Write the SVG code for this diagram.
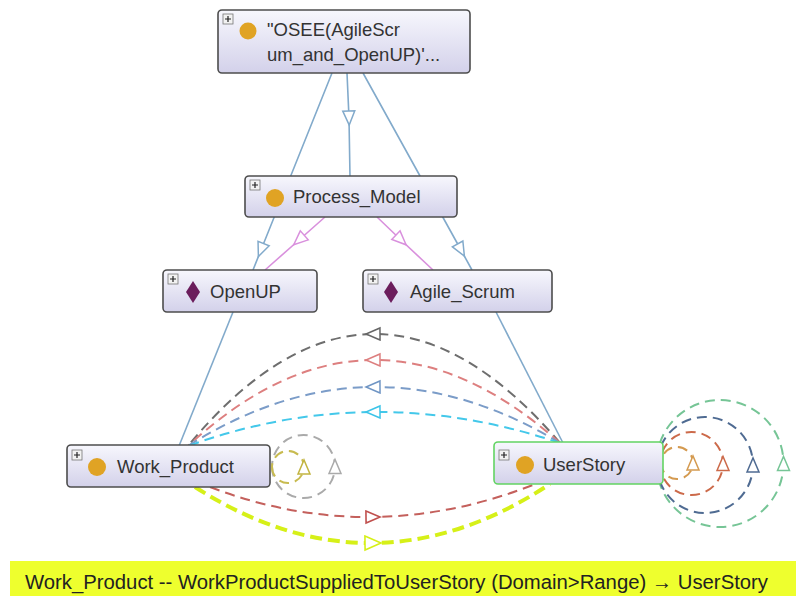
<svg xmlns="http://www.w3.org/2000/svg" width="796" height="596" viewBox="0 0 796 596">
<style>
.node{fill:url(#ng);stroke:#4d4d4d;stroke-width:1.6}
.lbl{font-family:"Liberation Sans",Arial,sans-serif;font-size:18.5px;fill:#333}
.pbox{fill:#f2f2f2;stroke:#777;stroke-width:0.8}
.pl{stroke:#222;stroke-width:1.2}
.dot{fill:#e0a324}
.dia{fill:#6b1d5c}
.h{fill:none;stroke:#82aacb;stroke-width:1.6}
.pk{fill:none;stroke:#d990dd;stroke-width:1.6}
.d{fill:none;stroke-width:2;stroke-dasharray:10 6}
</style>
<defs>
<linearGradient id="ng" x1="0" y1="0" x2="0" y2="1">
<stop offset="0" stop-color="#f7f7fd"/>
<stop offset="1" stop-color="#d3d1ea"/>
</linearGradient>
<marker id="mBlue" markerUnits="userSpaceOnUse" markerWidth="16" markerHeight="14" refX="7" refY="6" orient="auto" overflow="visible"><path d="M0,0 L14,6 L0,12 z" fill="#fff" stroke="#82aacb" stroke-width="1.5"/></marker>
<marker id="mPink" markerUnits="userSpaceOnUse" markerWidth="16" markerHeight="14" refX="7" refY="6" orient="auto" overflow="visible"><path d="M0,0 L14,6 L0,12 z" fill="#fff" stroke="#d990dd" stroke-width="1.5"/></marker>
<marker id="mGray" markerUnits="userSpaceOnUse" markerWidth="16" markerHeight="14" refX="7" refY="6" orient="auto" overflow="visible"><path d="M0,0 L14,6 L0,12 z" fill="#fff" stroke="#666" stroke-width="1.5"/></marker>
<marker id="mRed" markerUnits="userSpaceOnUse" markerWidth="16" markerHeight="14" refX="7" refY="6" orient="auto" overflow="visible"><path d="M0,0 L14,6 L0,12 z" fill="#fff" stroke="#dd7f7f" stroke-width="1.5"/></marker>
<marker id="mSteel" markerUnits="userSpaceOnUse" markerWidth="16" markerHeight="14" refX="7" refY="6" orient="auto" overflow="visible"><path d="M0,0 L14,6 L0,12 z" fill="#fff" stroke="#6f95c4" stroke-width="1.5"/></marker>
<marker id="mCyan" markerUnits="userSpaceOnUse" markerWidth="16" markerHeight="14" refX="7" refY="6" orient="auto" overflow="visible"><path d="M0,0 L14,6 L0,12 z" fill="#fff" stroke="#3cc4e8" stroke-width="1.5"/></marker>
<marker id="mRed2" markerUnits="userSpaceOnUse" markerWidth="16" markerHeight="14" refX="7" refY="6" orient="auto" overflow="visible"><path d="M0,0 L14,6 L0,12 z" fill="#fff" stroke="#c0504e" stroke-width="1.6"/></marker>
<marker id="mYel" markerUnits="userSpaceOnUse" markerWidth="18" markerHeight="16" refX="8" refY="7" orient="auto" overflow="visible"><path d="M0,0 L16,7 L0,14 z" fill="#fff" stroke="#d6f018" stroke-width="1.6"/></marker>
<marker id="mOlive" markerUnits="userSpaceOnUse" markerWidth="16" markerHeight="14" refX="7" refY="6" orient="auto" overflow="visible"><path d="M0,0 L14,6 L0,12 z" fill="#fff" stroke="#c2b440" stroke-width="1.5"/></marker>
<marker id="mLGray" markerUnits="userSpaceOnUse" markerWidth="16" markerHeight="14" refX="7" refY="6" orient="auto" overflow="visible"><path d="M0,0 L14,6 L0,12 z" fill="#fff" stroke="#aaa" stroke-width="1.5"/></marker>
<marker id="mTan" markerUnits="userSpaceOnUse" markerWidth="16" markerHeight="14" refX="7" refY="6" orient="auto" overflow="visible"><path d="M0,0 L14,6 L0,12 z" fill="#fff" stroke="#d49a50" stroke-width="1.5"/></marker>
<marker id="mOrange" markerUnits="userSpaceOnUse" markerWidth="16" markerHeight="14" refX="7" refY="6" orient="auto" overflow="visible"><path d="M0,0 L14,6 L0,12 z" fill="#fff" stroke="#cc6a4a" stroke-width="1.5"/></marker>
<marker id="mNavy" markerUnits="userSpaceOnUse" markerWidth="16" markerHeight="14" refX="7" refY="6" orient="auto" overflow="visible"><path d="M0,0 L14,6 L0,12 z" fill="#fff" stroke="#4f6b92" stroke-width="1.5"/></marker>
<marker id="mGreen" markerUnits="userSpaceOnUse" markerWidth="16" markerHeight="14" refX="7" refY="6" orient="auto" overflow="visible"><path d="M0,0 L14,6 L0,12 z" fill="#fff" stroke="#76c596" stroke-width="1.5"/></marker>
</defs>
<rect x="0" y="0" width="796" height="596" fill="#fff"/>
<g id="connectors">
<path class="h" d="M332,73 L261,250 L253,270" marker-mid="url(#mBlue)"/>
<path class="h" d="M347,73 L349,118 L350,177" marker-mid="url(#mBlue)"/>
<path class="h" d="M363,73 L461,250 L472,270" marker-mid="url(#mBlue)"/>
<path class="pk" d="M325,217 L299,240 L265,270" marker-mid="url(#mPink)"/>
<path class="pk" d="M377,217 L401,240 L433,270" marker-mid="url(#mPink)"/>
<path class="h" d="M233,312 L179,446"/>
<path class="h" d="M496,312 L563,443"/>
<path class="d" stroke="#6e6e6e" d="M560,443 Q466,333.25 373,334 Q280,334.75 188,446" marker-mid="url(#mGray)"/>
<path class="d" stroke="#dd7f7f" d="M560,443 Q466,359.25 373,360 Q280,360.75 188,446" marker-mid="url(#mRed)"/>
<path class="d" stroke="#7b9cc8" d="M560,443 Q466,386.25 373,387 Q280,387.75 188,446" marker-mid="url(#mSteel)"/>
<path class="d" stroke="#44c8ea" d="M560,443 Q466,411.25 373,412 Q280,412.75 188,446" marker-mid="url(#mCyan)"/>
<path class="d" stroke="#c4605c" d="M210,487 Q291,518 373,517 Q455,516 538,483" marker-mid="url(#mRed2)"/>
<path fill="none" stroke="#d6f018" stroke-width="4" stroke-dasharray="12 6" d="M195,487 Q284,544 373,543 Q462,542 550,484" marker-mid="url(#mYel)"/>
<path class="d" stroke="#aaaaaa" d="M272,466.5 A31.5,31.5 0 0 0 335,466.5 A31.5,31.5 0 0 0 272,466.5" marker-mid="url(#mLGray)"/>
<path class="d" stroke="#c8bb50" d="M272,467 A16,16 0 0 0 304,467 A16,16 0 0 0 272,467" marker-mid="url(#mOlive)"/>
<path class="d" stroke="#76c596" d="M656.5,463.5 A63.5,63.5 0 0 0 783.5,463.5 A63.5,63.5 0 0 0 656.5,463.5" marker-mid="url(#mGreen)"/>
<path class="d" stroke="#4f6b92" d="M657,465 A48,48 0 0 0 753,465 A48,48 0 0 0 657,465" marker-mid="url(#mNavy)"/>
<path class="d" stroke="#cc6a4a" d="M660,463.5 A31.5,31.5 0 0 0 723,463.5 A31.5,31.5 0 0 0 660,463.5" marker-mid="url(#mOrange)"/>
<path class="d" stroke="#d49a50" d="M661,463 A16,16 0 0 0 693,463 A16,16 0 0 0 661,463" marker-mid="url(#mTan)"/>
</g>
<g id="node-osee">
<rect class="node" x="218" y="10" width="252" height="63" rx="4"/>
<rect class="pbox" x="223" y="14" width="10" height="10"/>
<path class="pl" d="M225,19 H231 M228,16 V22"/>
<circle class="dot" cx="248" cy="31" r="8.5"/>
<text class="lbl" x="267" y="36">"OSEE(AgileScr</text>
<text class="lbl" x="267" y="61">um_and_OpenUP)'...</text>
</g>
<g id="node-process-model">
<rect class="node" x="245" y="176" width="212" height="41" rx="4"/>
<rect class="pbox" x="250" y="180" width="10" height="10"/>
<path class="pl" d="M252,185 H258 M255,182 V188"/>
<circle class="dot" cx="275" cy="198" r="9"/>
<text class="lbl" x="293" y="203">Process_Model</text>
</g>
<g id="node-openup">
<rect class="node" x="163" y="270" width="154" height="42" rx="4"/>
<rect class="pbox" x="168" y="274" width="10" height="10"/>
<path class="pl" d="M170,279 H176 M173,276 V282"/>
<path class="dia" d="M193,281 L200,292 L193,303 L186,292 z"/>
<text class="lbl" x="210" y="298">OpenUP</text>
</g>
<g id="node-agile-scrum">
<rect class="node" x="363" y="270" width="189" height="42" rx="4"/>
<rect class="pbox" x="368" y="274" width="10" height="10"/>
<path class="pl" d="M370,279 H376 M373,276 V282"/>
<path class="dia" d="M391,281 L398,292 L391,303 L384,292 z"/>
<text class="lbl" x="410" y="298">Agile_Scrum</text>
</g>
<g id="node-work-product">
<rect class="node" x="67" y="445" width="203" height="42" rx="4"/>
<rect class="pbox" x="72" y="450" width="10" height="10"/>
<path class="pl" d="M74,455 H80 M77,452 V458"/>
<circle class="dot" cx="97" cy="467" r="9"/>
<text class="lbl" x="117" y="473">Work_Product</text>
</g>
<g id="node-userstory">
<rect class="node" x="494" y="442" width="169" height="42" rx="4" style="stroke:#63d463"/>
<rect class="pbox" x="499" y="450" width="10" height="10"/>
<path class="pl" d="M501,455 H507 M504,452 V458"/>
<circle class="dot" cx="525" cy="465" r="9"/>
<text class="lbl" x="543" y="471">UserStory</text>
</g>
<g id="banner">
<rect x="10" y="561" width="786" height="35" fill="#eeff2e"/>
<text x="25" y="589" font-family="'Liberation Sans',Arial,sans-serif" font-size="20" fill="#222" textLength="743" lengthAdjust="spacingAndGlyphs">Work_Product -- WorkProductSuppliedToUserStory (Domain&gt;Range) → UserStory</text>
</g>
</svg>
